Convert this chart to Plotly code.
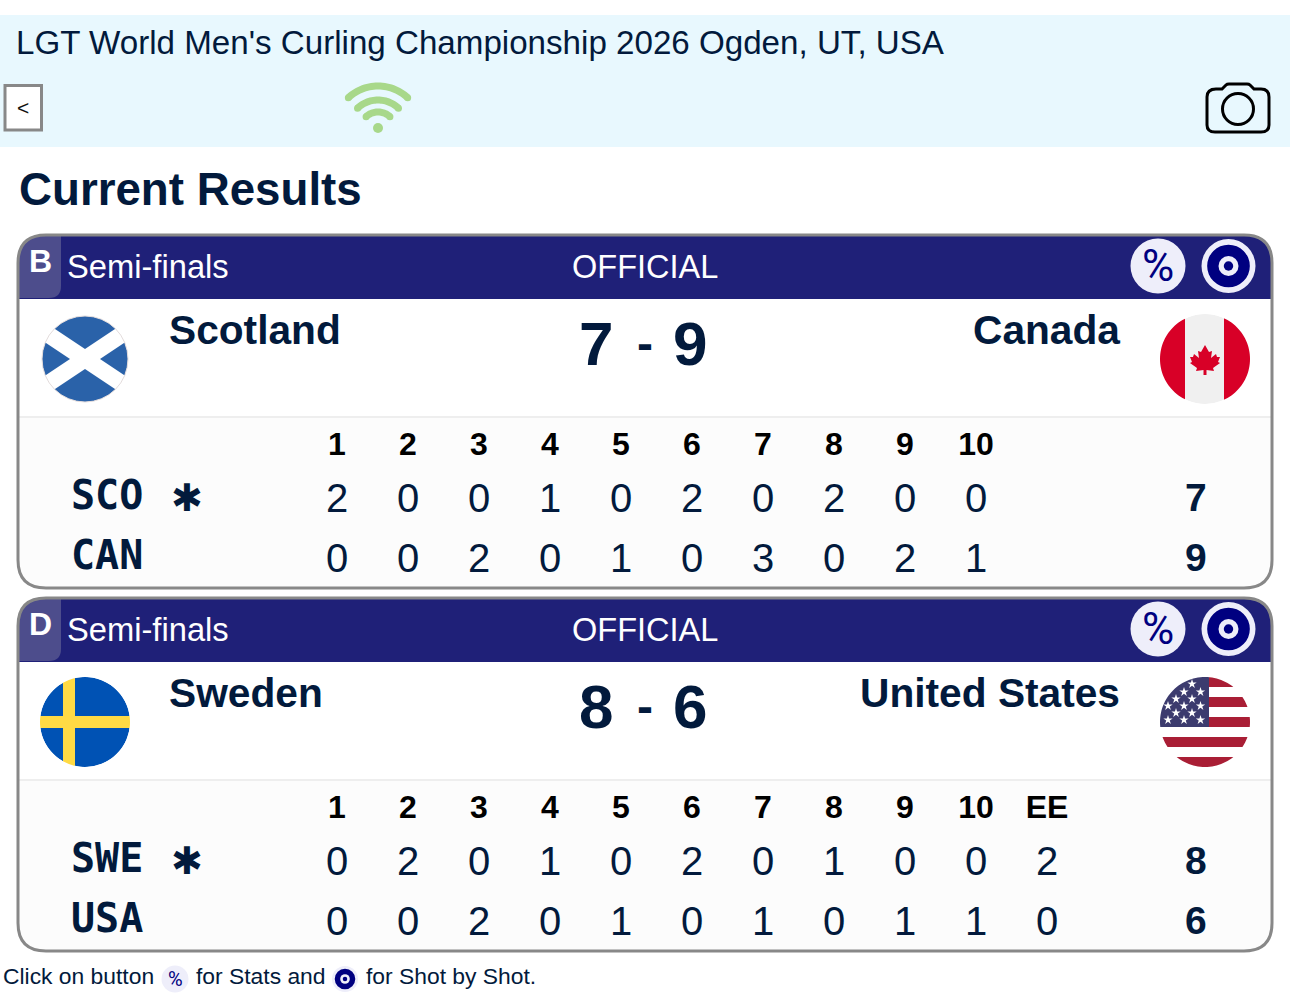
import math
import plotly.graph_objects as go

# ---- content ----
EVENT_TITLE = "LGT World Men's Curling Championship 2026 Ogden, UT, USA"
PAGE_TITLE = "Current Results"
FOOT_PARTS = ["Click on button", "for Stats and", "for Shot by Shot."]
END_LABELS = ["1", "2", "3", "4", "5", "6", "7", "8", "9", "10", "EE"]

SHEETS = ["B", "D"]
STAGES = ["Semi-finals", "Semi-finals"]
STATUSES = ["OFFICIAL", "OFFICIAL"]
HOME_NAMES = ["Scotland", "Sweden"]
AWAY_NAMES = ["Canada", "United States"]
HOME_CODES = ["SCO", "SWE"]
AWAY_CODES = ["CAN", "USA"]
HOME_TOTALS = [7, 8]
AWAY_TOTALS = [9, 6]
SCO_ENDS = [2, 0, 0, 1, 0, 2, 0, 2, 0, 0]
CAN_ENDS = [0, 0, 2, 0, 1, 0, 3, 0, 2, 1]
SWE_ENDS = [0, 2, 0, 1, 0, 2, 0, 1, 0, 0, 2]
USA_ENDS = [0, 0, 2, 0, 1, 0, 1, 0, 1, 1, 0]
HOME_ENDS = [SCO_ENDS, SWE_ENDS]
AWAY_ENDS = [CAN_ENDS, USA_ENDS]

# ---- style ----
INK = "#021a3c"
BAND = "#e8f8fe"
HEAD = "#1f2078"
TAB = "#4d4d8c"
BTN = "#eeeefa"
NAVY = "#000080"
GRAY = "#888888"
SANS = "Liberation Sans"
MONO = "DejaVu Sans Mono"

shapes, notes = [], []


def rect(x0, y0, x1, y1, fill, line=None, w=0):
    shapes.append(dict(type="rect", layer="below", x0=x0, y0=y0, x1=x1, y1=y1, fillcolor=fill,
                       line=dict(color=line or fill, width=w)))


def circ(cx, cy, r, fill, line=None, w=0):
    shapes.append(dict(type="circle", layer="below", x0=cx - r, y0=cy - r, x1=cx + r, y1=cy + r, fillcolor=fill,
                       line=dict(color=line or fill, width=w)))


def path(d, fill=None, line=None, w=0):
    s = dict(type="path", layer="below", path=d, line=dict(color=line or "rgba(0,0,0,0)", width=w))
    if fill:
        s["fillcolor"] = fill
    shapes.append(s)


def poly(pts, fill):
    path("M" + " L".join(f"{x:.2f},{y:.2f}" for x, y in pts) + " Z", fill)


def rrect(x0, y0, x1, y1, tl, tr, br, bl):
    return (f"M{x0 + tl},{y0} L{x1 - tr},{y0} Q{x1},{y0} {x1},{y0 + tr} L{x1},{y1 - br} Q{x1},{y1} {x1 - br},{y1} "
            f"L{x0 + bl},{y1} Q{x0},{y1} {x0},{y1 - bl} L{x0},{y0 + tl} Q{x0},{y0} {x0 + tl},{y0} Z")


def text(x, y, s, size, color=INK, bold=False, anchor="left", font=SANS):
    notes.append(dict(x=x, y=y, text=f"<b>{s}</b>" if bold else s, showarrow=False, xanchor=anchor,
                      yanchor="middle", borderpad=0,
                      font=dict(family=font, size=size, color=color)))


def mask(cx, cy, r, edge=None):
    """white square with a round hole: trims a flag to a disc"""
    m = r + 2
    pts = [(cx + r * math.cos(a * math.pi / 60), cy + r * math.sin(a * math.pi / 60)) for a in range(120)]
    hole = "M" + " L".join(f"{x:.2f},{y:.2f}" for x, y in pts) + " Z"
    path(f"M{cx - m},{cy - m} L{cx + m},{cy - m} L{cx + m},{cy + m} L{cx - m},{cy + m} Z " + hole, "#ffffff")
    if edge:
        circ(cx, cy, r, "rgba(0,0,0,0)", edge, 1)


def arc(cx, cy, r, half_deg, w, color):
    a = [math.radians(-90 - half_deg + i * 2 * half_deg / 30) for i in range(31)]
    outer = [(cx + (r + w / 2) * math.cos(t), cy + (r + w / 2) * math.sin(t)) for t in a]
    inner = [(cx + (r - w / 2) * math.cos(t), cy + (r - w / 2) * math.sin(t)) for t in a][::-1]
    poly(outer + inner, color)
    for t in (a[0], a[-1]):
        circ(cx + r * math.cos(t), cy + r * math.sin(t), w / 2, color)


def percent_button(cx, cy, r, size):
    circ(cx, cy, r, BTN)
    text(cx, cy, "%", size, NAVY, anchor="center", font="Roboto")


def target_button(cx, cy, r):
    circ(cx, cy, r, BTN)
    circ(cx, cy, r * 0.79, NAVY)
    circ(cx, cy, r * 0.37, BTN)
    circ(cx, cy, r * 0.175, NAVY)


# ---- page header ----
rect(0, 15, 1290, 147, BAND)
text(15, 42, EVENT_TITLE, 33.15)
rect(5, 85.5, 41.5, 130, "#ffffff", GRAY, 3)
text(23, 107, "&lt;", 21, "#111111", anchor="center")
for r_, h_ in [(43.5, 43), (29.5, 44), (17.5, 43)]:
    arc(378, 129.5, r_, h_, 7, "#a8d88a")
circ(378, 128, 5, "#a8d88a")
path("M1216,89 L1222,89 L1226,85 Q1227,84 1229,84 L1247,84 Q1249,84 1250,85 L1254,89 L1261,89 Q1269,89 1269,97 "
     "L1269,125 Q1269,132 1261,132 L1215,132 Q1207,132 1207,125 L1207,97 Q1207,89 1216,89 Z",
     None, "#000000", 3)
circ(1238, 109, 15.5, "rgba(0,0,0,0)", "#000000", 3)
text(18, 189, PAGE_TITLE, 45.7, bold=True)

# ---- cards ----
CARD_STEP = 363
END_X0, END_DX = 337, 71
traces = []
for k in range(len(SHEETS)):
    o = k * CARD_STEP
    path(rrect(18, 235 + o, 1272, 588 + o, 28, 28, 28, 28), "#fcfcfc")
    rect(19, 299 + o, 1271, 417 + o, "#ffffff")
    rect(19, 416 + o, 1271, 418 + o, "#eeeeee")
    path(rrect(18.5, 235.5 + o, 1271.5, 299 + o, 28, 28, 0, 0), HEAD)
    path(rrect(18.5, 235.5 + o, 61, 298 + o, 28, 0, 12, 0), TAB)
    text(40, 261 + o, SHEETS[k], 32, "#ffffff", True, "center")
    text(66, 266 + o, STAGES[k], 32.7, "#ffffff")
    text(645, 267 + o, STATUSES[k], 32.5, "#ffffff", anchor="center")
    percent_button(1158, 266 + o, 27.5, 44)
    target_button(1228.5, 266 + o, 27)

    text(168, 329.5 + o, HOME_NAMES[k], 40.7, bold=True)
    text(1121, 329.5 + o, AWAY_NAMES[k], 40.7, bold=True, anchor="right")
    text(596, 343 + o, str(HOME_TOTALS[k]), 62, bold=True, anchor="center")
    text(644.7, 343 + o, "-", 48, bold=True, anchor="center")
    text(690, 343 + o, str(AWAY_TOTALS[k]), 62, bold=True, anchor="center")

    n_ends = len(HOME_ENDS[k])
    cols = [END_X0 + i * END_DX for i in range(n_ends)]
    traces.append(go.Scatter(x=cols, y=[447 + o] * n_ends, mode="text", text=[f"<b>{v}</b>" for v in END_LABELS[:n_ends]],
                             textposition="middle center", textfont=dict(family=SANS, size=32, color="#000000"),
                             hoverinfo="skip", showlegend=False))
    for row_y, vals, code, total in [(498 + o, HOME_ENDS[k], HOME_CODES[k], HOME_TOTALS[k]),
                                     (558 + o, AWAY_ENDS[k], AWAY_CODES[k], AWAY_TOTALS[k])]:
        traces.append(go.Scatter(x=cols, y=[row_y + 4 for _ in vals], mode="text", text=[str(v) for v in vals],
                                 textposition="middle center", textfont=dict(family=SANS, size=40, color=INK),
                                 hoverinfo="skip", showlegend=False))
        text(69.5, row_y - 3, code, 40, bold=True, font=MONO)
        text(1196, row_y - 1, str(total), 39, bold=True, anchor="center")
    text(187, 498 + o, "✱", 38, bold=True, anchor="center", font="DejaVu Sans")
    path(rrect(18, 235 + o, 1272, 588 + o, 28, 28, 28, 28), None, GRAY, 3)

# ---- flags ----
# Scotland
cx, cy = 85, 359
circ(cx, cy, 43, "#2a62a9")
for sgn in (1, -1):
    poly([(cx - 60, cy - sgn * 40 - 10), (cx + 60, cy + sgn * 40 - 10),
          (cx + 60, cy + sgn * 40 + 10), (cx - 60, cy - sgn * 40 + 10)], "#ffffff")
mask(cx, cy, 43, "#e3dcdc")
# Canada
cx, cy = 1205, 359
circ(cx, cy, 45, "#f0f0f0")
rect(cx - 47, cy - 47, cx - 20, cy + 47, "#d80027")
rect(cx + 19, cy - 47, cx + 47, cy + 47, "#d80027")
mask(cx, cy, 45)
leaf = [(0, -15), (4, -8), (7, -9), (6, -2), (11, -6), (12, -3), (15, -3), (13, 2), (15, 3), (8, 8), (9, 11), (1.5, 10),
        (1.5, 15), (-1.5, 15), (-1.5, 10), (-9, 11), (-8, 8), (-15, 3), (-13, 2), (-15, -3), (-12, -3), (-11, -6),
        (-6, -2), (-7, -9), (-4, -8)]
poly([(cx + a, cy + 1 + b) for a, b in leaf], "#d80027")
# Sweden
cx, cy = 85, 722
circ(cx, cy, 45, "#0052b4")
rect(63, cy - 47, 75, cy + 47, "#ffda44")
rect(cx - 47, 716, cx + 47, 728, "#ffda44")
mask(cx, cy, 45)
# United States
cx, cy = 1205, 722
circ(cx, cy, 45, "#ffffff")
for i in range(0, 9, 2):
    rect(cx - 47, 677 + i * 10, cx + 47, 687 + i * 10, "#a91e35")
rect(cx - 47, 675, 1209, 727, "#3c3b6e")
mask(cx, cy, 45)
star_rows = {684: [1192], 692: [1184, 1200.5], 699: [1176, 1192], 706: [1168, 1184, 1200.5],
             713: [1176, 1192], 720: [1168, 1184, 1200.5]}
sx, sy = [], []
for y_, xs in star_rows.items():
    sx += xs
    sy += [y_] * len(xs)
traces.append(go.Scatter(x=sx, y=sy, mode="markers", marker=dict(symbol="star", size=7, color="#ffffff", line=dict(width=0)),
                         hoverinfo="skip", showlegend=False))

# ---- footer ----
text(2, 976, FOOT_PARTS[0], 22.85)
percent_button(175, 979, 13.5, 20)
text(194.5, 976, FOOT_PARTS[1], 22.85)
target_button(345, 979, 13)
text(364.5, 976, FOOT_PARTS[2], 22.85)

fig = go.Figure(traces)
fig.update_layout(
    width=1290, height=1000, autosize=False,
    margin=dict(l=0, r=0, t=0, b=0, pad=0),
    paper_bgcolor="#ffffff", plot_bgcolor="rgba(0,0,0,0)",
    xaxis=dict(range=[0, 1290], visible=False, fixedrange=True),
    yaxis=dict(range=[1000, 0], visible=False, fixedrange=True),
    shapes=shapes, annotations=notes, showlegend=False,
)
fig.write_html("out.html", config=dict(displayModeBar=False),
               post_script="document.body.style.margin='0';document.documentElement.style.overflow='hidden';")
